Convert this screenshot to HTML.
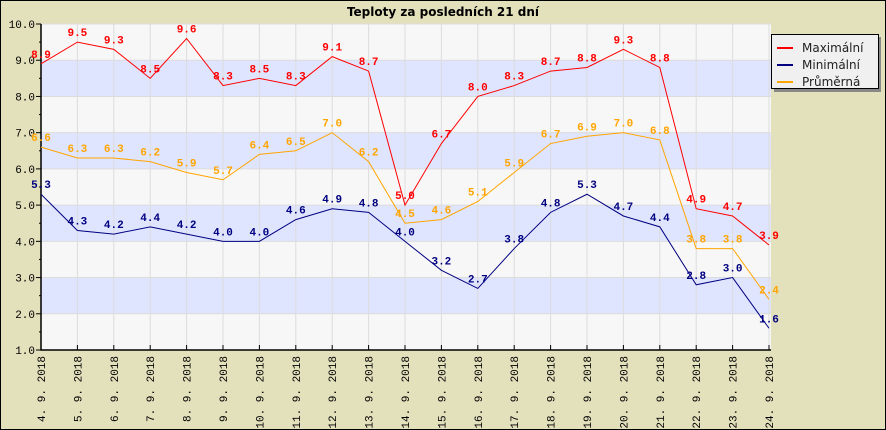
<!DOCTYPE html>
<html><head><meta charset="utf-8"><style>
body{margin:0;background:#fff}
svg{display:block;font-family:"Liberation Mono",monospace}
</style></head><body>
<svg id="c" width="886" height="430"></svg>
<script>
const dates=["4. 9. 2018","5. 9. 2018","6. 9. 2018","7. 9. 2018","8. 9. 2018","9. 9. 2018","10. 9. 2018","11. 9. 2018","12. 9. 2018","13. 9. 2018","14. 9. 2018","15. 9. 2018","16. 9. 2018","17. 9. 2018","18. 9. 2018","19. 9. 2018","20. 9. 2018","21. 9. 2018","22. 9. 2018","23. 9. 2018","24. 9. 2018"];
const maxVals=[8.9,9.5,9.3,8.5,9.6,8.3,8.5,8.3,9.1,8.7,5.0,6.7,8.0,8.3,8.7,8.8,9.3,8.8,4.9,4.7,3.9];
const minVals=[5.3,4.3,4.2,4.4,4.2,4.0,4.0,4.6,4.9,4.8,4.0,3.2,2.7,3.8,4.8,5.3,4.7,4.4,2.8,3.0,1.6];
const avgVals=[6.6,6.3,6.3,6.2,5.9,5.7,6.4,6.5,7.0,6.2,4.5,4.6,5.1,5.9,6.7,6.9,7.0,6.8,3.8,3.8,2.4];
const yTicks=[1,2,3,4,5,6,7,8,9,10];
const seriesNames=["Maximální","Minimální","Průměrná"];
const seriesColors=["#ff0000","#000080","#ffa500"];

const NS="http://www.w3.org/2000/svg";
const svg=document.getElementById("c");
const L=41,R=771,T=24,B=350,yMin=1,yMax=10;
const xs=i=>L+(R-2-L)*i/(dates.length-1);
const ys=v=>B-(v-yMin)/(yMax-yMin)*(B-T);
function el(tag,attrs,parent){const e=document.createElementNS(NS,tag);for(const k in attrs)e.setAttribute(k,attrs[k]);(parent||svg).appendChild(e);return e;}

let e;
e=el("rect",{x:0.5,y:0.5,width:885,height:429,fill:"#e3e0bc",stroke:"#000"});


e=el("text",{x:443,y:16,"text-anchor":"middle","font-family":"DejaVu Sans, Liberation Sans, sans-serif","font-size":"12","font-weight":"bold",fill:"#000"});
e.textContent="Teploty za posledních 21 dní";



e=el("rect",{x:L,y:T,width:R-L,height:B-T,fill:"#f7f7f7"});


for(let v=2;v<10;v+=2){
  e=el("rect",{x:L,y:ys(v+1),width:R-L,height:ys(v)-ys(v+1),fill:"#dfe5ff"});
  
  
}
yTicks.forEach(v=>{
  e=el("line",{x1:L,x2:R,y1:ys(v),y2:ys(v),stroke:"#dcdcdc"});
  
  
  e=el("line",{x1:L-5,x2:L,y1:ys(v),y2:ys(v),stroke:"#000"});
  
  
  if(v<yMax){e=el("line",{x1:L-2,x2:L,y1:ys(v+0.5),y2:ys(v+0.5),stroke:"#000"});
  
  }
  e=el("text",{x:L-6,y:ys(v)+4,"text-anchor":"end","font-size":"11",fill:"#000"});
  e.textContent=v.toFixed(1);
  
  
});
dates.forEach((d,i)=>{
  const x=xs(i);
  e=el("line",{x1:x,x2:x,y1:T,y2:B,stroke:"#dcdcdc"});
  
  
  e=el("line",{x1:x,x2:x,y1:B-5,y2:B,stroke:"#000"});
  
  
  e=el("text",{x:0,y:0,"text-anchor":"end","font-size":"11",fill:"#000",transform:`translate(${x+4},${B+6}) rotate(-90)`});
  e.textContent=d;
  
  
});
e=el("path",{d:`M${L} ${T}V${B}H${R}`,fill:"none",stroke:"#000","stroke-width":1.5});



[maxVals,minVals,avgVals].forEach((vals,s)=>{
  e=el("polyline",{points:vals.map((v,i)=>xs(i)+","+ys(v)).join(" "),fill:"none",stroke:seriesColors[s],"stroke-width":1});
  
  
  vals.forEach((v,i)=>{
    e=el("text",{x:xs(i),y:ys(v)-6,"text-anchor":"middle","font-size":"11","font-weight":"bold",fill:seriesColors[s]});
    e.textContent=v.toFixed(1);
    
    
  });
});

const lg=el("g",{});


el("rect",{x:774,y:37,width:107,height:55,fill:"#888"},lg);
el("rect",{x:771.5,y:34.5,width:107,height:54,fill:"#f0f0f0",stroke:"#000"},lg);
seriesNames.forEach((n,s)=>{
  const y=48+s*17;
  e=el("line",{x1:777,x2:793,y1:y,y2:y,stroke:seriesColors[s],"stroke-width":2},lg);
  
  
  e=el("text",{x:802,y:y+4,"font-family":"DejaVu Sans, Liberation Sans, sans-serif","font-size":"12",fill:"#222"},lg);
  e.textContent=n;
  
  
});
</script>
</body></html>
